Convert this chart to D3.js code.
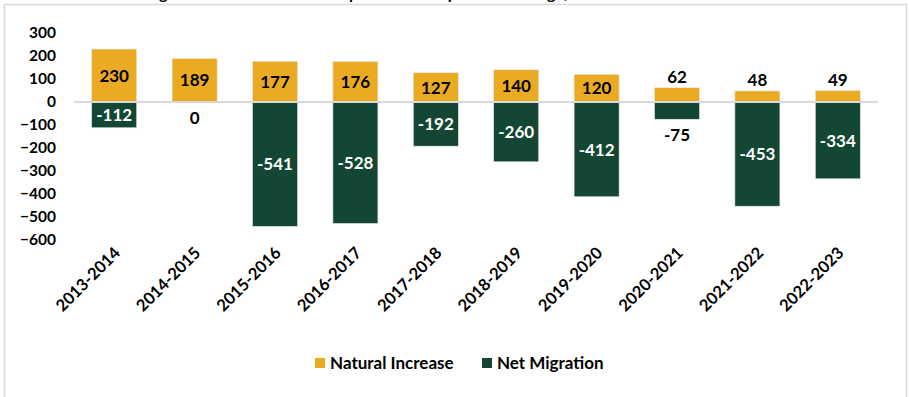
<!DOCTYPE html>
<html>
<head>
<meta charset="utf-8">
<script src="https://cdn.jsdelivr.net/npm/d3@7/dist/d3.min.js"></script>
<style>
  html, body { margin: 0; padding: 0; background: #fff; }
  svg { display: block; }
  text { font-family: Lato, "Open Sans", sans-serif; font-weight: 700; }
</style>
</head>
<body>
<svg id="chart" width="909" height="397"></svg>
<script>
// Population change components by year
const periods = ["2013-2014", "2014-2015", "2015-2016", "2016-2017", "2017-2018",
                 "2018-2019", "2019-2020", "2020-2021", "2021-2022", "2022-2023"];
const naturalIncrease = [230, 189, 177, 176, 127, 140, 120, 62, 48, 49];
const netMigration = [-112, 0, -541, -528, -192, -260, -412, -75, -453, -334];
const yTicks = [300, 200, 100, 0, -100, -200, -300, -400, -500, -600];
const seriesNames = ["Natural Increase", "Net Migration"];
const colors = ["#EAAA22", "#134734"];
const titleText = "Figure 2: The Two Main Components of Population Change, 2013-2014 to 2022-2023";

const W = 909, H = 397;
const svg = d3.select("#chart");

svg.append("rect").attr("width", W).attr("height", H).attr("fill", "#fff");

// chart title (sits above the frame)
svg.append("text")
  .attr("x", 146).attr("y", -1)
  .attr("text-anchor", "start")
  .attr("font-size", 16)
  .attr("fill", "#000")
  .text(titleText);

// outer frame
svg.append("rect")
  .attr("x", 4.5).attr("y", 4.5)
  .attr("width", 902).attr("height", 420)
  .attr("fill", "none")
  .attr("stroke", "#d9d9d9")
  .attr("stroke-width", 1.5);

const x = d3.scaleBand()
  .domain(periods)
  .range([74, 878])
  .paddingInner(0.44)
  .paddingOuter(0.22);

const y = d3.scaleLinear()
  .domain([-600, 300])
  .range([240, 33]);

// y axis labels
const yAxis = d3.axisLeft(y)
  .tickValues(yTicks)
  .tickSize(0)
  .tickPadding(0);
const yG = svg.append("g")
  .attr("transform", "translate(56,0)")
  .call(yAxis);
yG.select(".domain").remove();
yG.selectAll("text")
  .attr("font-size", 15.5)
  .attr("fill", "#000")
  .attr("font-family", "Lato, sans-serif")
  .attr("font-weight", 700);

// bars
const barStroke = "#e6e6e6";
svg.append("g").selectAll("rect")
  .data(periods.map((p, i) => ({ p, v: naturalIncrease[i] })))
  .join("rect")
  .attr("x", d => x(d.p))
  .attr("width", x.bandwidth())
  .attr("y", d => y(d.v))
  .attr("height", d => y(0) - y(d.v))
  .attr("fill", colors[0])
  .attr("stroke", barStroke)
  .attr("stroke-width", 0.6);

svg.append("g").selectAll("rect")
  .data(periods.map((p, i) => ({ p, v: netMigration[i] })))
  .join("rect")
  .attr("x", d => x(d.p))
  .attr("width", x.bandwidth())
  .attr("y", y(0))
  .attr("height", d => y(d.v) - y(0))
  .attr("fill", colors[1])
  .attr("stroke", d => d.v === 0 ? "none" : barStroke)
  .attr("stroke-width", 0.6);

// zero line
svg.append("line")
  .attr("x1", 74).attr("x2", 878)
  .attr("y1", y(0)).attr("y2", y(0))
  .attr("stroke", "#d9d9d9")
  .attr("stroke-width", 2);

// value labels
const cx = p => x(p) + x.bandwidth() / 2;
svg.append("g").selectAll("text")
  .data(periods.map((p, i) => ({ p, v: naturalIncrease[i] })))
  .join("text")
  .attr("x", d => cx(d.p))
  .attr("y", d => d.v >= 100 ? (y(d.v) + y(0)) / 2 : y(d.v) - 11)
  .attr("dy", "0.36em")
  .attr("text-anchor", "middle")
  .attr("font-size", 17)
  .attr("fill", "#000")
  .text(d => d.v);

svg.append("g").selectAll("text")
  .data(periods.map((p, i) => ({ p, v: netMigration[i] })))
  .join("text")
  .attr("x", d => cx(d.p))
  .attr("y", d => Math.abs(d.v) >= 100 ? (y(d.v) + y(0)) / 2 : y(d.v) + 16)
  .attr("dy", "0.36em")
  .attr("text-anchor", "middle")
  .attr("font-size", 17)
  .attr("fill", d => Math.abs(d.v) >= 100 ? "#fff" : "#000")
  .text(d => d.v);

// category labels, rotated
svg.append("g").selectAll("text")
  .data(periods)
  .join("text")
  .attr("transform", d => `translate(${cx(d) + 7},${254}) rotate(-45)`)
  .attr("text-anchor", "end")
  .attr("font-size", 16.5)
  .attr("fill", "#000")
  .text(d => d);

// legend
const legend = svg.append("g");
const legendItems = [{ x: 315, name: seriesNames[0], c: colors[0] },
                     { x: 482, name: seriesNames[1], c: colors[1] }];
legendItems.forEach(it => {
  legend.append("rect")
    .attr("x", it.x).attr("y", 358)
    .attr("width", 10).attr("height", 10)
    .attr("fill", it.c);
  legend.append("text")
    .attr("x", it.x + 15).attr("y", 363)
    .attr("dy", "0.36em")
    .attr("font-size", 17)
    .attr("fill", "#000")
    .text(it.name);
});
</script>
</body>
</html>
